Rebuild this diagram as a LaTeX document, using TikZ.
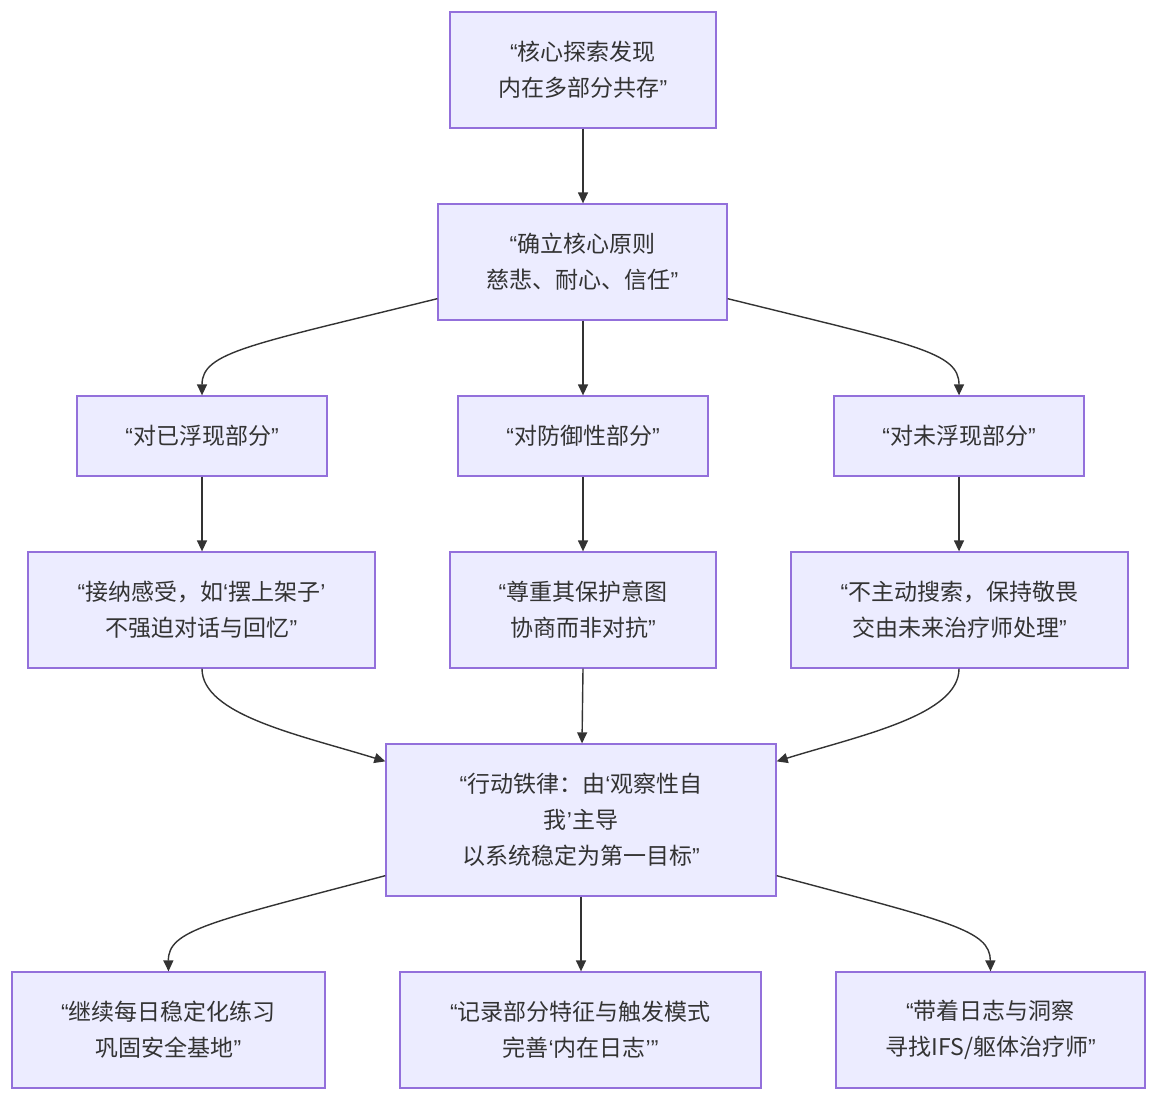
\documentclass[tikz,border=0pt]{standalone}
\usepackage{fontspec}
\setmainfont{Noto Sans CJK SC}
\newfontfamily\qfont{Liberation Sans}
\newcommand\oqq{{\qfont “}}
\newcommand\cqq{{\qfont ”}}
\newcommand\oq{{\qfont ‘}}
\newcommand\cq{{\qfont ’}}
\usetikzlibrary{arrows.meta}
\definecolor{nodefill}{HTML}{ECECFF}
\definecolor{nodeborder}{HTML}{9370DB}
\definecolor{ink}{HTML}{333333}
\tikzset{
  box/.style={draw=nodeborder, fill=nodefill, line width=1.3pt, inner sep=0pt,
    align=center, text=ink, font=\fontsize{23}{36}\selectfont},
  link/.style={draw=ink, line width=1.4pt, -{Triangle[length=11pt,width=10pt]}}
}
\begin{document}
\begin{tikzpicture}[x=1pt,y=-1pt]
\useasboundingbox (0,0) rectangle (1158,1101);
\fill[white] (0,0) rectangle (1158,1101);
\node[box, minimum width=266pt, minimum height=116pt] (A) at (583,70) {\oqq 核心探索发现\\内在多部分共存\cqq};
\node[box, minimum width=289pt, minimum height=116pt] (B) at (582.5,262) {\oqq 确立核心原则\\慈悲、耐心、信任\cqq};
\node[box, minimum width=250pt, minimum height=80pt] (C1) at (202,436) {\oqq 对已浮现部分\cqq};
\node[box, minimum width=250pt, minimum height=80pt] (C2) at (583,436) {\oqq 对防御性部分\cqq};
\node[box, minimum width=250pt, minimum height=80pt] (C3) at (959,436) {\oqq 对未浮现部分\cqq};
\node[box, minimum width=347pt, minimum height=116pt] (D1) at (201.5,610) {\oqq 接纳感受，如\oq 摆上架子\cq\\不强迫对话与回忆\cqq};
\node[box, minimum width=266pt, minimum height=116pt] (D2) at (583,610) {\oqq 尊重其保护意图\\协商而非对抗\cqq};
\node[box, minimum width=337pt, minimum height=116pt] (D3) at (959.5,610) {\oqq 不主动搜索，保持敬畏\\交由未来治疗师处理\cqq};
\node[box, minimum width=390pt, minimum height=152pt] (E) at (581,820) {\oqq 行动铁律：由\oq 观察性自\\我\cq 主导\\以系统稳定为第一目标\cqq};
\node[box, minimum width=313pt, minimum height=116pt] (F1) at (168.5,1030) {\oqq 继续每日稳定化练习\\巩固安全基地\cqq};
\node[box, minimum width=361pt, minimum height=116pt] (F2) at (580.5,1030) {\oqq 记录部分特征与触发模式\\完善\oq 内在日志\cq\cqq};
\node[box, minimum width=309pt, minimum height=116pt] (F3) at (990.5,1030) {\oqq 带着日志与洞察\\寻找IFS/躯体治疗师\cqq};

\draw[link] (A.south) -- (B.north -| A.south);
\draw[link] ([yshift=22pt]B.south west) .. controls (250,345) and (202,352) .. (C1.north);
\draw[link] (B.south -| C2.north) -- (C2.north);
\draw[link] ([yshift=22pt]B.south east) .. controls (915,345) and (959,352) .. (C3.north);
\draw[link] (C1.south) -- (D1.north -| C1.south);
\draw[link] (C2.south) -- (D2.north -| C2.south);
\draw[link] (C3.south) -- (D3.north -| C3.south);
\draw[link] (D1.south -| C1.south) .. controls (202,715) and (300,735) .. ([yshift=-18pt]E.north west);
\draw[link] (D2.south) -- ([xshift=1pt]E.north);
\draw[link] (D3.south -| C3.south) .. controls (959,715) and (862,735) .. ([yshift=-18pt]E.north east);
\draw[link] ([yshift=21pt]E.south west) .. controls (210,922) and (168,930) .. (F1.north);
\draw[link] (E.south) -- (F2.north -| E.south);
\draw[link] ([yshift=21pt]E.south east) .. controls (950,922) and (990,930) .. (F3.north);
\end{tikzpicture}
\end{document}
